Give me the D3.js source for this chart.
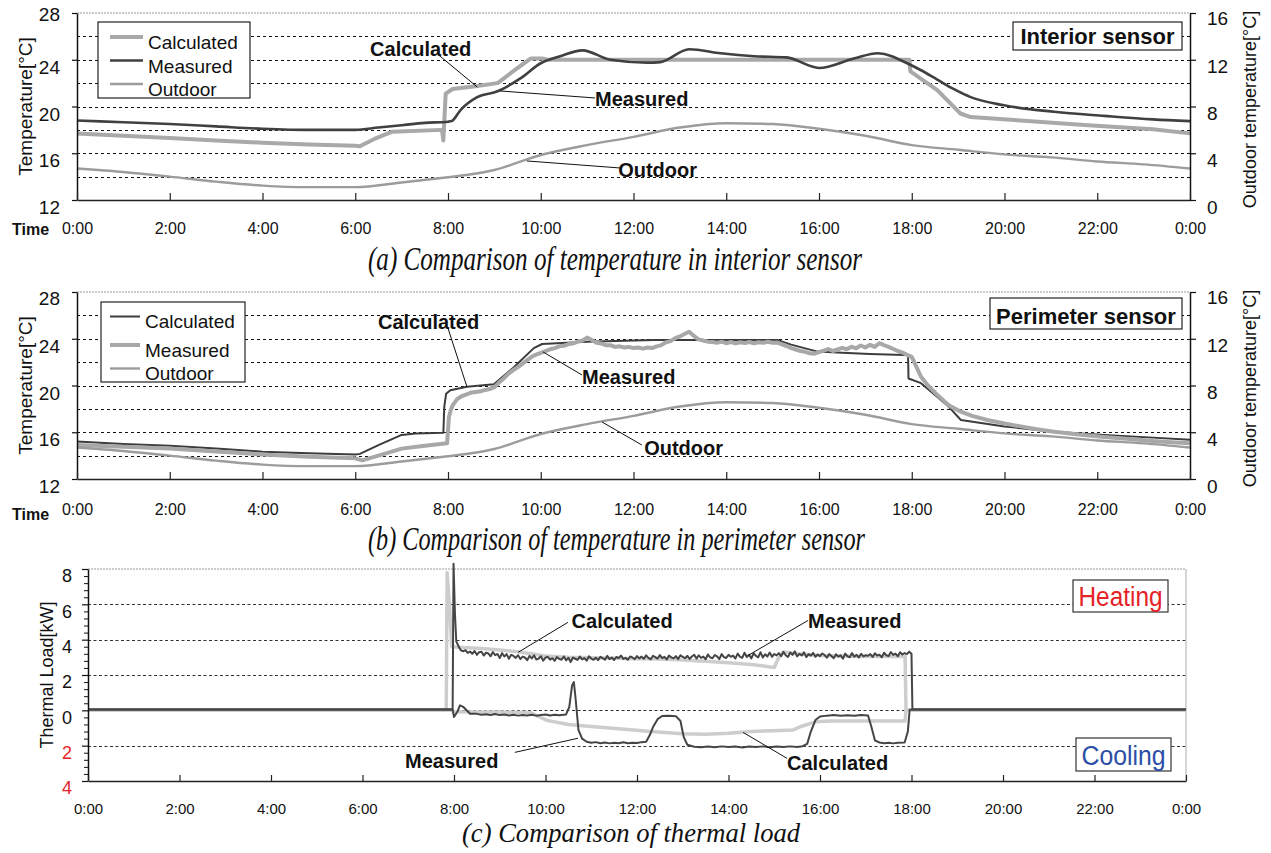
<!DOCTYPE html>
<html><head><meta charset="utf-8">
<script src="https://cdn.jsdelivr.net/npm/d3@7"></script>
<style>body{margin:0;background:#fff}svg{display:block}</style>
</head><body>
<svg id="c" width="1271" height="853"></svg>
<script>
// ---------------- DATA ----------------
const timeTickHours = [0,2,4,6,8,10,12,14,16,18,20,22,24];
const timeTickLabels = ["0:00","2:00","4:00","6:00","8:00","10:00","12:00","14:00","16:00","18:00","20:00","22:00","0:00"];
const tempTicksLeft = [12,16,20,24,28];
const tempTicksRight = [0,4,8,12,16];
const tempGrid = [14,16,18,20,22,24,26];
const loadTicks = [-4,-2,0,2,4,6,8];
const loadTickLabels = ["4","2","0","2","4","6","8"];
const loadGrid = [-2,0,2,4,6];

// Outdoor temperature [°C] (right axis), [hour, value]
const outdoorTemp = [[0,2.7],[1,2.4],[2,2.0],[3,1.57],[4,1.23],[5,1.1],[6,1.1],[7,1.5],[8,1.95],[8.5,2.2],[9,2.57],[10,3.85],[11,4.7],[12,5.4],[13,6.2],[14,6.57],[15,6.5],[16,6.1],[17,5.5],[18,4.7],[19,4.3],[20,3.9],[21,3.65],[22,3.3],[23,3.05],[24,2.7]];

// (a) interior sensor
const interiorCalculated = [[0,17.7],[1,17.5],[2,17.3],[3,17.1],[4,16.9],[5,16.75],[6,16.65],[6.1,16.6],[6.4,17.2],[6.8,17.85],[7.87,18.0],[7.9,17.1],[7.95,21.1],[8.1,21.5],[8.63,21.75],[9.07,22.0],[9.4,23.0],[9.78,24.1],[10.05,24.1],[10.15,24.0],[17.95,24.0],[17.97,23.0],[18.55,21.4],[19.05,19.4],[19.27,19.1],[20.35,18.8],[21.8,18.4],[23.2,18.05],[24,17.7]];
const interiorMeasured = [[0,18.8],[1,18.65],[2,18.5],[3,18.3],[4,18.1],[5,18.0],[6,18.0],[6.5,18.2],[7,18.4],[7.5,18.6],[8.0,18.7],[8.08,18.75],[8.27,19.7],[8.63,20.8],[9.07,21.3],[9.56,22.4],[10.0,23.7],[10.42,24.3],[10.9,24.8],[11.5,24.0],[12.3,23.75],[12.58,23.8],[13.2,24.9],[13.88,24.55],[14.6,24.3],[15.3,24.2],[16.0,23.3],[16.75,24.1],[17.27,24.55],[17.98,23.55],[18.2,23.1],[18.55,22.3],[18.9,21.5],[19.27,20.8],[19.99,20.1],[21.07,19.55],[22.15,19.2],[23.2,18.9],[24,18.75]];

// (b) perimeter sensor
const perimeterCalculated = [[0,15.2],[1,15.0],[2,14.85],[3,14.6],[4,14.34],[5,14.2],[6,14.1],[6.1,14.15],[6.5,14.9],[7.0,15.77],[7.3,15.9],[7.9,15.95],[7.92,18.2],[7.96,19.3],[8.05,19.6],[8.41,19.9],[8.99,20.1],[9.42,21.56],[9.85,23.2],[10.03,23.55],[11.0,23.75],[12.44,23.9],[15.1,23.9],[15.4,23.5],[15.97,22.9],[16.5,22.8],[17.1,22.7],[17.84,22.6],[17.92,22.6],[17.93,20.6],[18.2,20.2],[18.77,18.3],[19.06,17.05],[20.0,16.5],[21.07,16.05],[22.15,15.77],[23.2,15.54],[24,15.35]];
const perimeterMeasuredNight1 = [[0,14.9],[1,14.75],[2,14.6],[3,14.35],[4,14.1],[5,13.9],[6,13.77],[6.15,13.6],[6.5,14.0],[7.0,14.6],[7.5,14.85],[7.98,15.05],[8.02,17.3],[8.06,17.9]];
const perimeterMeasuredDayStart = 8.1, perimeterMeasuredDayStep = 0.1;
const perimeterMeasuredDay = [18.3,18.85,19.1,19.25,19.4,19.45,19.5,19.62,19.7,19.85,
  20.25,20.6,21.0,21.3,21.55,21.85,22.15,22.45,22.65,22.8,
  22.95,23.1,23.2,23.35,23.4,23.55,23.6,23.75,23.85,24.1,
  23.9,23.65,23.6,23.45,23.45,23.3,23.35,23.25,23.3,23.2,
  23.25,23.15,23.25,23.2,23.35,23.45,23.7,23.8,24.05,24.2,
  24.4,24.6,24.25,23.95,23.85,23.75,23.72,23.65,23.75,23.62,
  23.72,23.6,23.7,23.64,23.72,23.62,23.7,23.66,23.74,23.66,
  23.68,23.52,23.38,23.2,23.08,22.95,22.88,22.75,22.72,22.85,
  22.98,23.12,22.95,23.08,23.22,23.1,23.32,23.18,23.42,23.25,
  23.48,23.3,23.62,23.45,23.3,23.12,22.95,22.82,22.62,22.45];
const perimeterMeasuredNight2 = [[18.2,20.75],[18.35,20.0],[18.55,19.2],[18.8,18.3],[19.06,17.76],[19.3,17.4],[19.63,17.05],[20.0,16.75],[20.35,16.5],[20.7,16.25],[21.07,16.05],[21.6,15.8],[22.15,15.6],[22.7,15.42],[23.2,15.25],[23.6,15.15],[24,15.05]];

// (c) thermal load [kW], heating positive / cooling negative
const heatingCalculated = [[0,0],[7.83,0],[7.85,7.8],[7.9,6.0],[7.95,3.6],[8.2,3.55],[8.6,3.5],[9.0,3.42],[9.44,3.3],[10.0,3.08],[10.5,3.0],[11,2.98],[12,2.92],[12.5,2.9],[13,2.85],[13.5,2.78],[14,2.7],[14.5,2.6],[14.8,2.5],[15.0,2.42],[15.1,3.0],[15.2,3.3],[15.5,3.2],[16,3.1],[17,3.05],[17.86,3.05],[17.88,0],[24,0]];
const heatingMeasuredEdgesBefore = [[0,0.06],[7.97,0.06],[7.99,8.3],[8.02,5.5],[8.05,3.9]];
const heatingMeasuredDayStart = 8.1, heatingMeasuredDayStep = 0.05;
const heatingMeasuredDay = [3.62,3.40,3.34,3.41,3.25,3.33,3.20,3.36,3.14,3.29,3.32,3.10,3.27,3.22,3.06,3.30,3.12,3.19,2.96,3.24,
  3.05,3.18,2.92,3.14,3.08,2.97,3.12,2.90,3.04,2.99,2.84,3.08,2.94,3.11,2.88,2.93,3.06,2.81,2.98,3.03,
  2.87,2.95,2.80,3.02,2.91,2.86,3.05,2.83,2.97,2.74,2.99,2.92,2.85,3.04,2.89,2.96,2.81,3.06,2.93,2.86,
  2.98,2.84,3.03,2.95,2.87,3.08,2.90,2.99,2.85,3.02,2.96,3.10,2.91,2.97,2.86,3.05,2.99,2.90,3.07,2.94,
  3.04,2.92,3.11,2.97,2.89,3.09,3.01,2.93,3.13,2.96,3.03,2.88,3.10,2.99,2.94,3.07,2.90,3.12,3.02,2.95,
  3.08,2.91,3.05,3.15,2.93,3.11,2.97,3.04,2.89,3.16,3.00,2.95,3.13,3.06,2.90,3.18,3.01,2.96,3.14,3.03,
  3.10,2.93,3.21,3.04,2.97,3.26,3.02,3.15,2.94,3.23,3.08,3.00,3.29,2.99,3.17,3.05,3.27,3.03,3.19,3.11,
  3.24,3.06,3.31,3.12,3.02,3.27,3.14,3.34,3.05,3.20,3.10,3.28,3.01,3.18,3.09,3.25,3.03,3.16,3.07,3.22,
  3.13,2.98,3.19,3.08,2.95,3.17,3.04,3.11,2.92,3.21,3.06,3.00,3.24,3.03,3.14,2.99,3.20,3.05,3.12,3.09,
  3.18,3.02,3.23,3.10,3.15,3.00,3.26,3.12,3.07,3.30,3.14,3.21,3.06,3.29,3.16,3.24,3.18,3.32,3.20];
const heatingMeasuredEdgesAfter = [[18.0,3.15],[18.02,0.06],[24,0.06]];
const coolingCalculated = [[0,0],[7.95,0],[8.0,-0.08],[9.0,-0.1],[9.66,-0.12],[9.85,-0.35],[10.03,-0.57],[10.5,-0.8],[11,-0.92],[11.6,-1.04],[12.3,-1.2],[13.0,-1.32],[13.5,-1.36],[14.0,-1.3],[14.5,-1.2],[15.0,-1.15],[15.4,-1.12],[15.6,-0.9],[15.9,-0.65],[16.2,-0.6],[17.0,-0.6],[17.86,-0.6],[17.88,0],[24,0]];
const coolingMeasured = [[0,0.04],[7.97,0.04],[8.0,-0.38],[8.08,-0.05],[8.13,0.28],[8.2,0.2],[8.35,-0.19],[8.5,-0.2],[8.6,-0.25],[8.7,-0.22],[8.8,-0.26],[8.9,-0.21],[9.0,-0.27],[9.1,-0.24],[9.2,-0.29],[9.3,-0.25],[9.4,-0.3],[9.5,-0.26],[9.6,-0.29],[9.7,-0.25],[9.8,-0.3],[9.9,-0.27],[10.0,-0.24],[10.1,-0.29],[10.2,-0.25],[10.3,-0.28],[10.45,-0.23],[10.52,0.2],[10.58,1.4],[10.62,1.6],[10.66,0.6],[10.72,-1.1],[10.8,-1.6],[10.9,-1.78],[11.0,-1.84],[11.1,-1.8],[11.2,-1.86],[11.3,-1.82],[11.4,-1.87],[11.5,-1.83],[11.6,-1.86],[11.7,-1.81],[11.8,-1.86],[11.9,-1.83],[12.0,-1.85],[12.1,-1.8],[12.2,-1.78],[12.28,-1.4],[12.36,-0.9],[12.45,-0.5],[12.55,-0.32],[12.7,-0.3],[12.85,-0.33],[12.95,-0.6],[13.02,-1.5],[13.1,-1.95],[13.25,-2.06],[13.4,-2.09],[13.55,-2.05],[13.7,-2.09],[13.85,-2.04],[14.0,-2.08],[14.15,-2.05],[14.3,-2.1],[14.45,-2.05],[14.6,-2.08],[14.75,-2.04],[14.9,-2.09],[15.05,-2.05],[15.2,-2.08],[15.35,-2.04],[15.5,-2.07],[15.62,-2.03],[15.72,-1.9],[15.8,-1.2],[15.9,-0.55],[16.0,-0.35],[16.15,-0.3],[16.3,-0.27],[16.45,-0.31],[16.6,-0.28],[16.75,-0.31],[16.9,-0.27],[17.05,-0.29],[17.12,-0.9],[17.2,-1.7],[17.3,-1.82],[17.4,-1.86],[17.5,-1.83],[17.6,-1.87],[17.7,-1.84],[17.85,-1.82],[17.92,-1.2],[17.96,0.04],[24,0.04]];

// ---------------- BUILD ----------------
const SANS = "'Liberation Sans', Arial, sans-serif";
const SERIF = "'Liberation Serif', 'Times New Roman', serif";
const svg = d3.select("#c");

const perimeterMeasured = perimeterMeasuredNight1
  .concat(perimeterMeasuredDay.map((v,i)=>[perimeterMeasuredDayStart + i*perimeterMeasuredDayStep, v]))
  .concat(perimeterMeasuredNight2);
const heatingMeasured = heatingMeasuredEdgesBefore
  .concat(heatingMeasuredDay.map((v,i)=>[heatingMeasuredDayStart + i*heatingMeasuredDayStep, v]))
  .concat(heatingMeasuredEdgesAfter);

function bottomAxis(g, x, yPos, tickLen, labelY, fontSize){
  const ax = g.append("g").attr("transform",`translate(0,${yPos})`)
    .call(d3.axisBottom(x).tickValues(timeTickHours).tickFormat((d,i)=>timeTickLabels[i]).tickSizeInner(-tickLen).tickSizeOuter(0));
  ax.attr("font-family",SANS).attr("font-size",fontSize);
  ax.select(".domain").attr("stroke","#222").attr("stroke-width",1.3);
  ax.selectAll(".tick line").attr("stroke","#222").attr("stroke-width",1.2);
  ax.selectAll(".tick text").attr("y",labelY).attr("dy",0).attr("fill","#111");
  return ax;
}

function drawTempPanel(cfg){
  const b = cfg.box;
  const x = d3.scaleLinear().domain([0,24]).range([b.left,b.right]);
  const y = d3.scaleLinear().domain([12,28]).range([b.bottom,b.top]);
  const yR = d3.scaleLinear().domain([0,16]).range([b.bottom,b.top]);
  const g = svg.append("g").attr("font-family",SANS);

  g.append("g").selectAll("line").data(tempGrid).join("line")
    .attr("x1",b.left).attr("x2",b.right)
    .attr("y1",d=>Math.round(y(d))+0.5).attr("y2",d=>Math.round(y(d))+0.5)
    .attr("stroke","#111").attr("stroke-width",1).attr("stroke-dasharray","3,3");
  g.append("line").attr("x1",b.left).attr("x2",b.right).attr("y1",y(28)).attr("y2",y(28))
    .attr("stroke","#999").attr("stroke-width",1.2).attr("stroke-dasharray","2,1");

  // legend box
  const L = cfg.legend;
  g.append("rect").attr("x",L.x).attr("y",L.y).attr("width",L.w).attr("height",L.h)
    .attr("fill","#fff").attr("stroke","#222").attr("stroke-width",1.2);
  cfg.series.forEach((s,i)=>{
    g.append("line").attr("x1",L.lineX1).attr("x2",L.lineX2).attr("y1",L.rows[i]-L.lineUp).attr("y2",L.rows[i]-L.lineUp)
      .attr("stroke",s.color).attr("stroke-width",s.width);
    g.append("text").attr("x",L.textX).attr("y",L.rows[i]).attr("font-size",19).attr("fill","#111").text(s.name);
  });

  // sensor label box
  const S = cfg.sensor;
  g.append("rect").attr("x",S.x).attr("y",S.y).attr("width",S.w).attr("height",S.h)
    .attr("fill","#fff").attr("stroke","#222").attr("stroke-width",1.2);
  g.append("text").attr("x",S.x+S.w/2).attr("y",S.base).attr("text-anchor","middle")
    .attr("font-size",22).attr("font-weight","bold").attr("fill","#111").text(S.text);

  // series
  cfg.series.forEach(s=>{
    const ys = s.right ? yR : y;
    const ln = d3.line().x(d=>x(d[0])).y(d=>ys(d[1])).curve(s.smooth ? d3.curveMonotoneX : d3.curveLinear);
    g.append("path").attr("d",ln(s.data)).attr("fill","none")
      .attr("stroke",s.color).attr("stroke-width",s.width).attr("stroke-linejoin","round").attr("stroke-linecap","butt");
  });

  // annotations
  cfg.annots.forEach(a=>{
    g.append("line").attr("x1",x(a.x1)).attr("y1",y(a.y1)).attr("x2",x(a.x2)).attr("y2",y(a.y2))
      .attr("stroke","#111").attr("stroke-width",1);
    g.append("text").attr("x",x(a.tx)).attr("y",y(a.ty)).attr("font-size",20).attr("font-weight","bold")
      .attr("fill","#111").text(a.text);
  });

  // left axis
  const la = g.append("g").attr("transform",`translate(${b.left},0)`)
    .call(d3.axisLeft(y).tickValues(tempTicksLeft).tickSizeInner(5).tickSizeOuter(0).tickPadding(12));
  la.attr("font-family",SANS).attr("font-size",19);
  la.select(".domain").attr("stroke","#111").attr("stroke-width",1.5);
  la.selectAll(".tick line").attr("stroke","#111").attr("stroke-width",1.2);
  la.selectAll(".tick text").attr("fill","#111").attr("dy","0.35em").attr("y",d=>d===28?cfg.topLabelDy:7);

  // right axis
  const ra = g.append("g").attr("transform",`translate(${b.right},0)`)
    .call(d3.axisRight(yR).tickValues(tempTicksRight).tickSizeInner(6).tickSizeOuter(0).tickPadding(11));
  ra.attr("font-family",SANS).attr("font-size",19);
  ra.select(".domain").attr("stroke","#111").attr("stroke-width",1.5);
  ra.selectAll(".tick line").attr("stroke","#111").attr("stroke-width",1.2);
  ra.selectAll(".tick text").attr("fill","#111").attr("dy","0.35em").attr("y",d=>d===16?5:6.5);

  bottomAxis(g, x, b.bottom, 7, cfg.xLabelY, 16);

  // axis titles
  const cy = (b.top+b.bottom)/2;
  g.append("text").attr("transform",`translate(${b.left-52},${cy}) rotate(-90)`).attr("text-anchor","middle")
    .attr("dy","0.35em").attr("font-size",19).attr("fill","#111").text("Temperature[°C]");
  g.append("text").attr("transform",`translate(${b.right+60},${cy+3}) rotate(-90)`).attr("text-anchor","middle")
    .attr("dy","0.35em").attr("font-size",18).attr("fill","#111").text("Outdoor temperature[°C]");
  g.append("text").attr("x",12).attr("y",cfg.timeY).attr("font-size",16).attr("font-weight","bold")
    .attr("fill","#111").text("Time");

  // caption
  svg.append("text").attr("x",cfg.caption.x).attr("y",cfg.caption.y).attr("font-family",SERIF)
    .attr("font-style","italic").attr("font-size",cfg.caption.size).attr("fill","#111")
    .attr("textLength",cfg.caption.len).attr("lengthAdjust","spacingAndGlyphs").text(cfg.caption.text);
}

drawTempPanel({
  box:{left:77,right:1190,top:13,bottom:200},
  topLabelDy:1, xLabelY:33.5, timeY:235,
  legend:{x:98,y:22,w:152,h:76,lineX1:110,lineX2:143,textX:148,rows:[49,72.5,96],lineUp:12},
  sensor:{x:1013,y:22,w:169,h:28,base:44,text:"Interior sensor"},
  series:[
    {name:"Calculated",data:interiorCalculated,color:"#a9a9a9",width:4},
    {name:"Measured",data:interiorMeasured,color:"#404040",width:2.6,smooth:true},
    {name:"Outdoor",data:outdoorTemp,color:"#9c9c9c",width:2.4,right:true,smooth:true}
  ],
  annots:[
    {text:"Calculated",tx:6.32,ty:24.28,x1:7.8,y1:24.4,x2:8.63,y2:21.67},
    {text:"Measured",tx:11.17,ty:20.04,x1:11.17,y1:20.73,x2:9.12,y2:21.33},
    {text:"Outdoor",tx:11.67,ty:14.01,x1:11.71,y1:14.74,x2:9.70,y2:15.34}
  ],
  caption:{x:368,y:269.5,size:34,len:494,text:"(a) Comparison of temperature in interior sensor"}
});

drawTempPanel({
  box:{left:77,right:1190,top:292,bottom:479},
  topLabelDy:6, xLabelY:36, timeY:520,
  legend:{x:101,y:302,w:144,h:80,lineX1:110,lineX2:140,textX:145,rows:[328,356.5,380],lineUp:11.5},
  sensor:{x:990,y:298,w:192,h:31,base:324,text:"Perimeter sensor"},
  series:[
    {name:"Calculated",data:perimeterCalculated,color:"#3c3c3c",width:2},
    {name:"Measured",data:perimeterMeasured,color:"#a8a8a8",width:4},
    {name:"Outdoor",data:outdoorTemp,color:"#9c9c9c",width:2.4,right:true,smooth:true}
  ],
  annots:[
    {text:"Calculated",tx:6.49,ty:24.83,x1:8.0,y1:24.9,x2:8.41,y2:19.87},
    {text:"Measured",tx:10.89,ty:20.13,x1:10.05,y1:22.87,x2:10.89,y2:20.9},
    {text:"Outdoor",tx:12.23,ty:14.05,x1:11.32,y1:16.88,x2:12.18,y2:14.91}
  ],
  caption:{x:368,y:549.5,size:34,len:497,text:"(b) Comparison of temperature in perimeter sensor"}
});

// ---------------- PANEL C ----------------
(function(){
  const b = {left:88,right:1186,top:569,bottom:781};
  const x = d3.scaleLinear().domain([0,24]).range([b.left,b.right]);
  const y = d3.scaleLinear().domain([-4,8]).range([b.bottom,b.top]);
  const g = svg.append("g").attr("font-family",SANS);

  g.append("g").selectAll("line").data(loadGrid).join("line")
    .attr("x1",b.left).attr("x2",b.right)
    .attr("y1",d=>Math.round(y(d))+0.5).attr("y2",d=>Math.round(y(d))+0.5)
    .attr("stroke","#333").attr("stroke-width",1).attr("stroke-dasharray","3,2.5");
  g.append("line").attr("x1",b.left).attr("x2",b.right).attr("y1",y(8)).attr("y2",y(8))
    .attr("stroke","#999").attr("stroke-width",1.2).attr("stroke-dasharray","2,1");
  g.append("line").attr("x1",b.right).attr("x2",b.right).attr("y1",y(8)).attr("y2",y(-4))
    .attr("stroke","#bbb").attr("stroke-width",1.2);

  // boxes
  const boxes = [
    {x:1073,y:580,w:95,h:32,base:606,text:"Heating",color:"#e52227"},
    {x:1076,y:738,w:95,h:33,base:765,text:"Cooling",color:"#2b4ea6"}
  ];
  boxes.forEach(bx=>{
    g.append("rect").attr("x",bx.x).attr("y",bx.y).attr("width",bx.w).attr("height",bx.h)
      .attr("fill","#fff").attr("stroke","#333").attr("stroke-width",1.2);
    g.append("text").attr("x",bx.x+bx.w/2).attr("y",bx.base).attr("text-anchor","middle")
      .attr("font-size",27).attr("textLength",84).attr("lengthAdjust","spacingAndGlyphs")
      .attr("fill",bx.color).text(bx.text);
  });

  const line = d3.line().x(d=>x(d[0])).y(d=>y(d[1]));
  [[heatingCalculated,"#cdcdcd",3.5],[coolingCalculated,"#cdcdcd",3.5],[coolingMeasured,"#454545",2],[heatingMeasured,"#454545",2]]
    .forEach(([data,color,w])=>{
      g.append("path").attr("d",line(data)).attr("fill","none").attr("stroke",color)
        .attr("stroke-width",w).attr("stroke-linejoin","round");
    });

  const annots = [
    {text:"Calculated",tx:10.57,ty:4.64,x1:10.49,y1:4.98,x2:9.40,y2:3.28},
    {text:"Measured",tx:15.74,ty:4.64,x1:15.74,y1:5.09,x2:14.43,y2:3.11},
    {text:"Measured",tx:6.93,ty:-3.28,x1:9.33,y1:-2.38,x2:10.71,y2:-1.58},
    {text:"Calculated",tx:15.28,ty:-3.4,x1:15.28,y1:-2.72,x2:14.32,y2:-1.25}
  ];
  annots.forEach(a=>{
    g.append("line").attr("x1",x(a.x1)).attr("y1",y(a.y1)).attr("x2",x(a.x2)).attr("y2",y(a.y2))
      .attr("stroke","#111").attr("stroke-width",1);
    g.append("text").attr("x",x(a.tx)).attr("y",y(a.ty)).attr("font-size",20).attr("font-weight","bold")
      .attr("fill","#111").text(a.text);
  });

  // minor ticks
  const minor = d3.range(-40,81,4).map(v=>v/10).filter(v=>Math.abs(v/2-Math.round(v/2))>1e-6);
  const mi = g.append("g").attr("transform",`translate(${b.left},0)`)
    .call(d3.axisLeft(y).tickValues(minor).tickFormat("").tickSizeInner(4).tickSizeOuter(0));
  mi.select(".domain").remove();
  mi.selectAll(".tick line").attr("stroke","#111");
  const la = g.append("g").attr("transform",`translate(${b.left},0)`)
    .call(d3.axisLeft(y).tickValues(loadTicks).tickFormat((d,i)=>loadTickLabels[i]).tickSizeInner(6).tickSizeOuter(0).tickPadding(10));
  la.attr("font-family",SANS).attr("font-size",18);
  la.select(".domain").attr("stroke","#111").attr("stroke-width",1.5);
  la.selectAll(".tick line").attr("stroke","#111").attr("stroke-width",1.2);
  la.selectAll(".tick text").attr("dy","0.35em").attr("y",6.5).attr("fill",d=>d<0?"#e52227":"#111");

  bottomAxis(g, x, b.bottom, 6, 32.5, 15);

  g.append("text").attr("transform",`translate(47,${(b.top+b.bottom)/2}) rotate(-90)`).attr("text-anchor","middle")
    .attr("dy","0.35em").attr("font-size",18).attr("fill","#111").text("Thermal Load[kW]");

  svg.append("text").attr("x",462).attr("y",842).attr("font-family",SERIF)
    .attr("font-style","italic").attr("font-size",27).attr("fill","#111")
    .attr("textLength",338).attr("lengthAdjust","spacingAndGlyphs").text("(c) Comparison of thermal load");
})();
</script>
</body></html>
